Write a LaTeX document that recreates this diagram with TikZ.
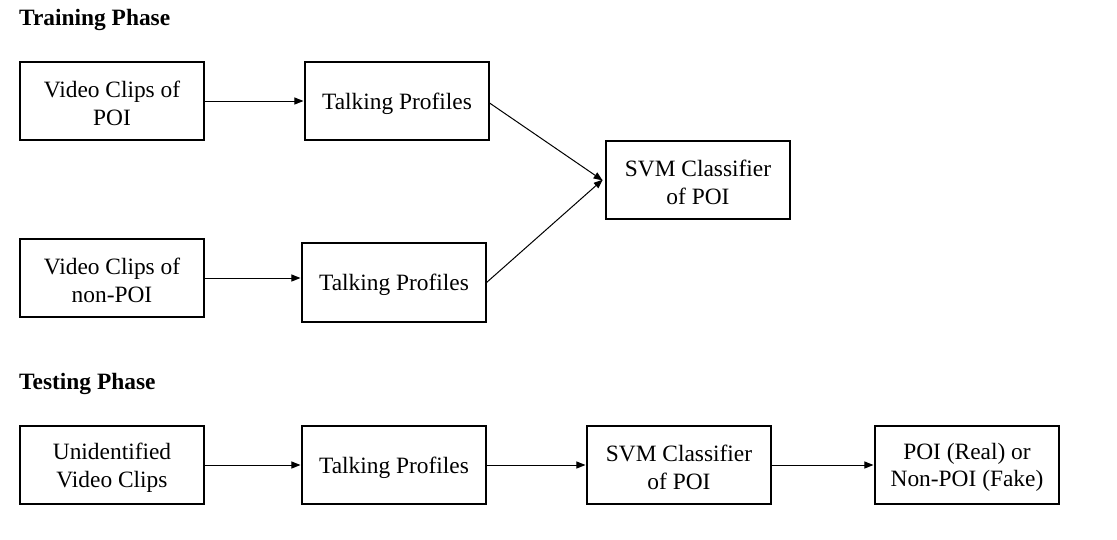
\documentclass[tikz,border=0pt]{standalone}
\usepackage{fontspec}
\setmainfont{Liberation Serif}
\usetikzlibrary{arrows.meta}
\begin{document}
\begin{tikzpicture}[x=1pt,y=-1pt,
  box/.style={draw,line width=1.1pt,minimum width=184pt,minimum height=78pt,inner sep=0pt,
    label={[inner sep=0pt,align=center,yshift=-2.5pt,font=\fontsize{23.4}{27.5}\selectfont]center:#1}},
  title/.style={anchor=base west,inner sep=0pt,font=\fontsize{23.4}{27}\selectfont\bfseries},
  conn/.style={line width=1pt,-{Triangle[length=9pt,width=7pt]},shorten >=1pt}]
\useasboundingbox (0,0) rectangle (1117,539);
\node[title] (t1) at (19,25.5) {Training Phase};
\node[title] (t2) at (19,389.5) {Testing Phase};
\node[box={Video Clips of\\POI}] (a1) at (112,101) {};
\node[box={Talking Profiles}] (b1) at (397,101) {};
\node[box={SVM Classifier\\of POI}] (s1) at (698,180) {};
\node[box={Video Clips of\\non-POI}] (a2) at (112,278) {};
\node[box={Talking Profiles},minimum height=79pt] (b2) at (394,282.5) {};
\node[box={Unidentified\\Video Clips}] (c1) at (112,465) {};
\node[box={Talking Profiles}] (c2) at (394,465) {};
\node[box={SVM Classifier\\of POI}] (c3) at (679,465) {};
\node[box={POI (Real) or\\Non-POI (Fake)}] (c4) at (967,465) {};
\draw[conn] (a1) -- (b1);
\draw[conn] (a2.east) -- (a2.east -| b2.west);
\draw[conn] ([yshift=-2pt]b1.east) -- ([shift={(-2pt,-1pt)}]s1.west);
\draw[conn] (b2.east) -- ([shift={(-2pt,1pt)}]s1.west);
\draw[conn] (c1) -- (c2);
\draw[conn] (c2) -- (c3);
\draw[conn] (c3) -- (c4);
\end{tikzpicture}
\end{document}
